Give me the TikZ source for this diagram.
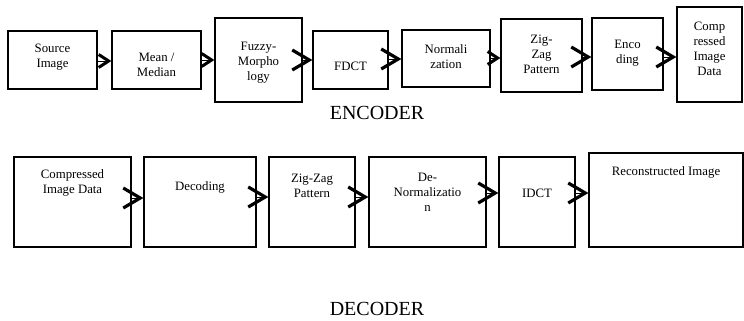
\documentclass[tikz,border=0pt]{standalone}
\usepackage{fontspec}
\setmainfont{Liberation Serif}
\usetikzlibrary{arrows.meta,fit}

\tikzset{
  block/.style={draw, line width=1.2pt, inner sep=0pt},
  lbl/.style={align=center, inner sep=0pt, font=\fontsize{12.8}{15}\selectfont},
  title/.style={inner sep=0pt, font=\fontsize{20}{22}\selectfont},
  arr/.style={line width=0.6pt, -{Straight Barb[length=17pt,width=20pt,line width=3.2pt,sharp]}},
  arrs/.style={line width=0.6pt, -{Straight Barb[length=10pt,width=13pt,line width=3pt,sharp]}}
}

\begin{document}
\begin{tikzpicture}[x=1pt,y=-1pt]
\useasboundingbox (0,0) rectangle (744,321);

% ---------------- encoder chain ----------------
\node[block, fit={(8,31)(97,89)}]    (src)   {};
\node[block, fit={(112,31)(201,89)}] (mean)  {};
\node[block, fit={(215,18)(302,102)}] (fuzzy) {};
\node[block, fit={(313,31)(388,89)}] (fdct)  {};
\node[block, fit={(402,30)(490,87)}] (norm)  {};
\node[block, fit={(501,19)(582,92)}] (zig)   {};
\node[block, fit={(592,18)(663,90)}] (enc)   {};
\node[block, fit={(677,7)(742,102)}] (cid)   {};

\node[lbl] (src-t)   at (52.5,57)  {Source\\Image};
\node[lbl] (mean-t)  at (156.5,65) {Mean /\\Median};
\node[lbl] (fuzzy-t) at (258.5,63) {Fuzzy-\\Morpho\\logy};
\node[lbl] (fdct-t)  at (350.5,66) {FDCT};
\node[lbl] (norm-t)  at (446,57)   {Normali\\zation};
\node[lbl] (zig-t)   at (541.5,54) {Zig-\\Zag\\Pattern};
\node[lbl] (enc-t)   at (627.5,53) {Enco\\ding};
\node[lbl] (cid-t)   at (709.5,49) {Comp\\ressed\\Image\\Data};

\node[title] (encoder) at (377,113) {ENCODER};

\draw[arrs] (src.east |- 0,61)   -- (mean.west |- 0,61);
\draw[arrs] (mean.east |- 0,60)  -- (fuzzy.west |- 0,60);
\draw[arr]  (fuzzy.east |- 0,60) -- (fdct.west |- 0,60);
\draw[arr]  (fdct.east |- 0,59)  -- (norm.west |- 0,59);
\draw[arrs] (norm.east |- 0,58)  -- (zig.west |- 0,58);
\draw[arr]  (zig.east |- 0,57)   -- (enc.west |- 0,57);
\draw[arr]  (enc.east |- 0,57)   -- (cid.west |- 0,57);

% ---------------- decoder chain ----------------
\node[block, fit={(14,157)(131,247)}]  (dcid)  {};
\node[block, fit={(144,157)(256,247)}] (dec)   {};
\node[block, fit={(269,157)(355,247)}] (dzig)  {};
\node[block, fit={(369,157)(486,247)}] (dnorm) {};
\node[block, fit={(499,157)(575,247)}] (idct)  {};
\node[block, fit={(589,153)(743,247)}] (rec)   {};

\node[lbl] (dcid-t)  at (72.5,183)  {Compressed\\Image Data};
\node[lbl] (dec-t)   at (200,187)   {Decoding};
\node[lbl] (dzig-t)  at (312,185.5) {Zig-Zag\\Pattern};
\node[lbl] (dnorm-t) at (427.5,192) {De-\\Normalizatio\\n};
\node[lbl] (idct-t)  at (537,193)   {IDCT};
\node[lbl] (rec-t)   at (666,172)   {Reconstructed Image};

\node[title] (decoder) at (377,309) {DECODER};

\draw[arr] (dcid.east |- 0,198)  -- (dec.west |- 0,198);
\draw[arr] (dec.east |- 0,197)   -- (dzig.west |- 0,197);
\draw[arr] (dzig.east |- 0,197)  -- (dnorm.west |- 0,197);
\draw[arr] (dnorm.east |- 0,193) -- (idct.west |- 0,193);
\draw[arr] (idct.east |- 0,193)  -- (rec.west |- 0,193);
\end{tikzpicture}
\end{document}
